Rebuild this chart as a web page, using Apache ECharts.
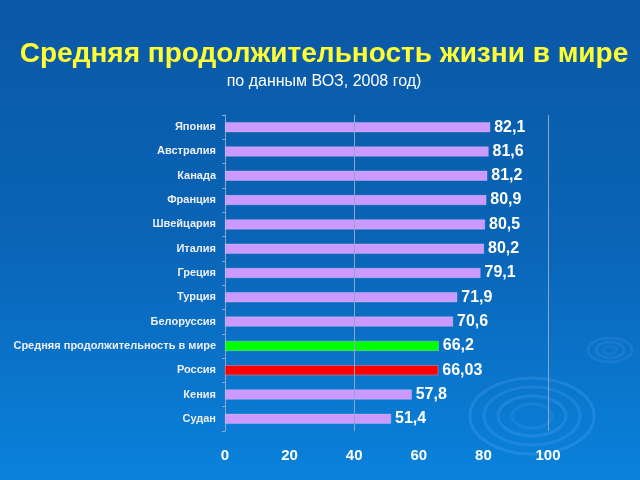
<!DOCTYPE html>
<html><head><meta charset="utf-8">
<script src="https://cdn.jsdelivr.net/npm/echarts@6/dist/echarts.min.js"></script>
<style>html,body{margin:0;padding:0;}#c{width:640px;height:480px;}</style>
</head><body><div id="c"></div>
<script>
const categories = ['Япония','Австралия','Канада','Франция','Швейцария','Италия','Греция','Турция','Белоруссия','Средняя продолжительность в мире','Россия','Кения','Судан'];
const values = [82.1, 81.6, 81.2, 80.9, 80.5, 80.2, 79.1, 71.9, 70.6, 66.2, 66.03, 57.8, 51.4];
const barColors = ['#cc99ff','#cc99ff','#cc99ff','#cc99ff','#cc99ff','#cc99ff','#cc99ff','#cc99ff','#cc99ff','#00ff00','#ff0000','#cc99ff','#cc99ff'];
const gridValues = [40, 100];
const titleText = 'Средняя продолжительность жизни в мире';
const subtitleText = 'по данным ВОЗ, 2008 год)';

const chart = echarts.init(document.getElementById('c'));
const rings = [];
const ringDefs = [[532,416,62,38,0.18],[532,416,48,29,0.16],[532,416,34,20,0.18],[532,416,20,12,0.12],[610,350,22,12,0.12],[610,350,14,8,0.12],[610,350,7,4,0.1]];
ringDefs.forEach(r => rings.push({type:'ellipse', silent:true, z:-1, shape:{cx:r[0],cy:r[1],rx:r[2],ry:r[3]}, style:{fill:'none', stroke:'rgba(120,190,255,'+r[4]+')', lineWidth:3}}));

chart.setOption({
  backgroundColor: {type:'linear', x:0, y:0, x2:0, y2:1, colorStops:[{offset:0,color:'#0a58a6'},{offset:0.5,color:'#0a64b6'},{offset:1,color:'#0a82dc'}]},
  graphic: rings,
  title: [
    {text: titleText, left: 319, top: 35, textAlign:'center', textStyle:{color:'#ffff33', fontSize:28, fontWeight:'bold', fontFamily:'Liberation Sans, Arial, sans-serif'}},
    {text: subtitleText, left: 319, top: 69, textAlign:'center', textStyle:{color:'#ffffff', fontSize:16, fontWeight:'normal', fontFamily:'Liberation Sans, Arial, sans-serif'}}
  ],
  grid: {left: 225, right: 92, top: 115, bottom: 49, containLabel: false},
  xAxis: {
    type:'value', min:0, max:100, interval:20,
    axisLine:{show:false}, axisTick:{show:false}, splitLine:{show:false},
    axisLabel:{color:'#ffffff', fontSize:15, fontWeight:'bold', margin:17, fontFamily:'Liberation Sans, Arial, sans-serif'}
  },
  yAxis: {
    type:'category', data: categories, inverse:true,
    axisLine:{show:true, lineStyle:{color:'#8da6c8', width:1}},
    axisTick:{show:true, length:3, lineStyle:{color:'#8da6c8'}},
    axisLabel:{color:'#eef0f8', fontSize:11, fontWeight:'bold', margin:9, fontFamily:'Liberation Sans, Arial, sans-serif'}
  },
  series: [{
    type:'bar', barWidth:10,
    data: values.map((v,i)=>({value:v, itemStyle:{color:barColors[i]}})),
    itemStyle:{borderColor:'rgba(230,220,255,0.6)', borderWidth:0.5},
    label:{show:true, position:'right', distance:4, color:'#ffffff', fontSize:16, fontWeight:'bold', fontFamily:'Liberation Sans, Arial, sans-serif',
      formatter: p => String(p.value).replace('.', ',')},
    markLine:{silent:true, symbol:'none', label:{show:false}, lineStyle:{color:'#8da6c8', type:'solid', width:1},
      data: gridValues.map(v=>({xAxis:v}))},
    z:3
  }],
  animation:false
});
</script></body></html>
